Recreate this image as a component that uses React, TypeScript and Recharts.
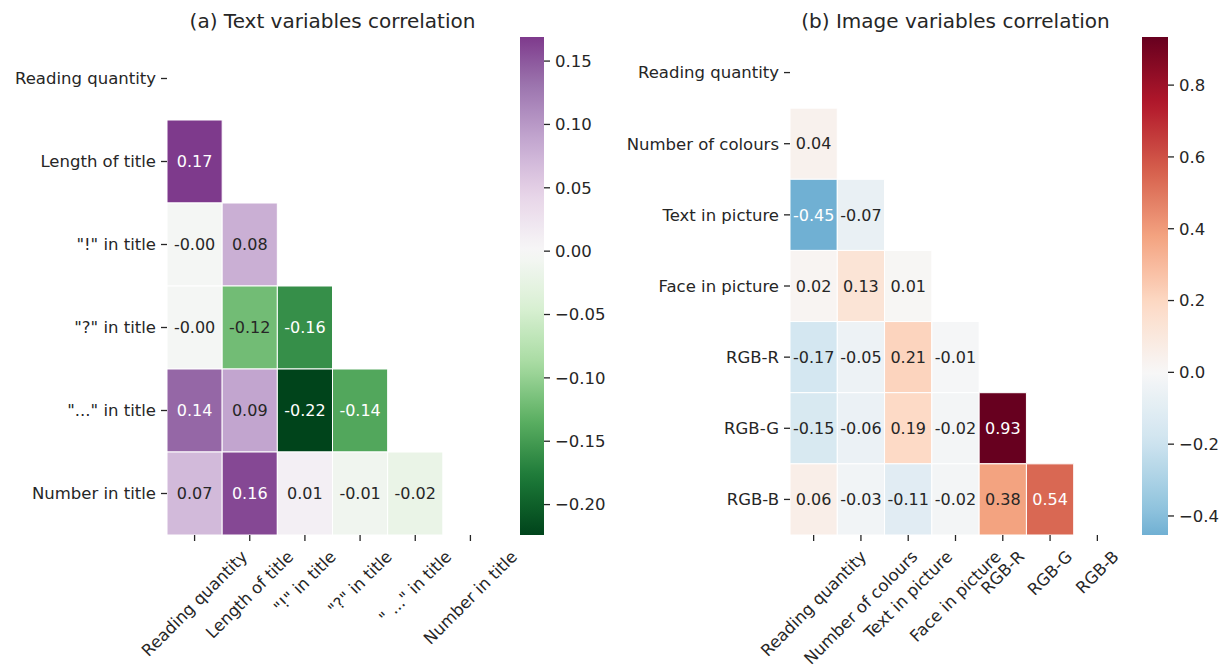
import React from 'react';
import { ComposedChart, XAxis, YAxis, ReferenceArea, Scatter } from 'recharts';

// ---- data ----
const textVars = ['Reading quantity', 'Length of title', '"!" in title', '"?" in title', '"..." in title', 'Number in title'];
const textVarsX = ['Reading quantity', 'Length of title', '"!" in title', '"?" in title', '" ..." in title', 'Number in title'];
// lower triangle, row by row (diagonal and upper part masked)
const textCorr = [
    [],
    [0.169],
    [-0.004, 0.08],
    [-0.004, -0.12, -0.16],
    [0.14, 0.09, -0.224, -0.14],
    [0.07, 0.16, 0.01, -0.01, -0.02],
];
const textCbarTicks = [0.15, 0.1, 0.05, 0, -0.05, -0.1, -0.15, -0.2];

const imageVars = ['Reading quantity', 'Number of colours', 'Text in picture', 'Face in picture', 'RGB-R', 'RGB-G', 'RGB-B'];
const imageCorr = [
    [],
    [0.04],
    [-0.453, -0.07],
    [0.02, 0.13, 0.01],
    [-0.17, -0.05, 0.21, -0.01],
    [-0.15, -0.06, 0.19, -0.02, 0.934],
    [0.06, -0.03, -0.11, -0.02, 0.38, 0.54],
];
const imageCbarTicks = [0.8, 0.6, 0.4, 0.2, 0, -0.2, -0.4];

// colormaps (matplotlib PRGn_r / RdBu_r control colours)
const PRGn_r = ['#00441b', '#1b7837', '#5aae61', '#a6dba0', '#d9f0d3', '#f7f7f7', '#e7d4e8', '#c2a5cf', '#9970ab', '#762a83', '#40004b'];
const RdBu_r = ['#053061', '#2166ac', '#4393c3', '#92c5de', '#d1e5f0', '#f7f7f7', '#fddbc7', '#f4a582', '#d6604d', '#b2182b', '#67001f'];

const FONT = '"DejaVu Sans", "Liberation Sans", sans-serif';
const TXT = '#262626';
const TICK_FS = 16.5;
const ANN_FS = 16;

const hexToRgb = (h: string) => [1, 3, 5].map((i) => parseInt(h.slice(i, i + 2), 16));

const sampleCmap = (stops: string[], t: number) => {
    const tt = Math.max(0, Math.min(1, t)) * (stops.length - 1);
    const i = Math.min(Math.floor(tt), stops.length - 2);
    const f = tt - i;
    const a = hexToRgb(stops[i]);
    const b = hexToRgb(stops[i + 1]);
    return a.map((v, k) => Math.round(v + (b[k] - v) * f));
};

const rgbStr = (c: number[]) => `rgb(${c[0]},${c[1]},${c[2]})`;

// seaborn picks white / dark annotation text by luminance
const luminance = (c: number[]) => {
    const l = c.map((v) => {
        const s = v / 255;
        return s <= 0.03928 ? s / 12.92 : Math.pow((s + 0.055) / 1.055, 2.4);
    });
    return 0.2126 * l[0] + 0.7152 * l[1] + 0.0722 * l[2];
};

let ctx: CanvasRenderingContext2D | null = null;
const measure = (s: string, fs: number) => {
    if (!ctx) ctx = document.createElement('canvas').getContext('2d');
    if (!ctx) return s.length * fs * 0.6;
    ctx.font = `${fs}px "DejaVu Sans"`;
    return ctx.measureText(s).width;
};

const RotatedTick = (props: any) => {
    const { x, y, payload, labels } = props;
    const s = labels[Math.floor(payload.value)];
    const L = measure(s, TICK_FS);
    const half = ((L + TICK_FS * 1.17) * Math.SQRT1_2) / 2;
    return (
        <text
            x={0}
            y={0}
            transform={`translate(${x},${y + half}) rotate(-45)`}
            textAnchor="middle"
            dominantBaseline="central"
            fontSize={TICK_FS}
            fontFamily={FONT}
            fill={TXT}
        >
            {s}
        </text>
    );
};

const Empty = () => <g />;

interface PanelProps {
    id: string;
    title: string;
    labels: string[];
    xLabels: string[];
    corr: number[][];
    cmap: string[];
    cbarTicks: number[];
    cbarDecimals: number;
    left: number;
    yAxisWidth: number;
    plotWidth: number;
    cbarLeft: number;
    cbarWidth: number;
}

const TOP = 37;
const BOTTOM = 535;
const H = 672;
const EXTRA_RIGHT = 70;

const HeatmapPanel: React.FC<PanelProps> = (p) => {
    const n = p.labels.length;
    const all = p.corr.flat();
    const vmin = Math.min(...all);
    const vmax = Math.max(...all);
    const vrange = Math.max(Math.abs(vmin), Math.abs(vmax)); // center = 0
    const colorOf = (v: number) => sampleCmap(p.cmap, 0.5 + v / (2 * vrange));
    const centers = p.labels.map((_, i) => i + 0.5);
    const chartW = p.yAxisWidth + p.plotWidth + EXTRA_RIGHT;
    const cells = p.corr.flatMap((row, r) => row.map((v, c) => ({ x: c + 0.5, y: r + 0.5, v })));
    const cbarPts = [{ x: 0, y: vmin }, { x: 1, y: vmax }];

    const gradStops = Array.from({ length: 41 }, (_, i) => {
        const v = vmin + ((vmax - vmin) * i) / 40;
        return { off: i / 40, c: rgbStr(colorOf(v)) };
    });

    return (
        <>
            <div
                style={{
                    position: 'absolute',
                    left: p.left + p.yAxisWidth,
                    width: p.plotWidth,
                    top: 9,
                    textAlign: 'center',
                    fontFamily: FONT,
                    fontSize: 20,
                    lineHeight: '24px',
                    color: TXT,
                    whiteSpace: 'nowrap',
                }}
            >
                {p.title}
            </div>
            <div style={{ position: 'absolute', left: p.left, top: 0 }}>
                <ComposedChart width={chartW} height={H} margin={{ top: TOP, right: EXTRA_RIGHT, bottom: 0, left: 0 }}>
                    <XAxis
                        xAxisId="x"
                        dataKey="x"
                        type="number"
                        domain={[0, n]}
                        ticks={centers}
                        interval={0}
                        allowDataOverflow
                        height={H - BOTTOM}
                        axisLine={false}
                        tickSize={6}
                        tickMargin={6}
                        tickLine={{ stroke: TXT, strokeWidth: 1.3 }}
                        tick={(tp: any) => <RotatedTick {...tp} labels={p.xLabels} />}
                    />
                    <YAxis
                        yAxisId="y"
                        dataKey="y"
                        type="number"
                        domain={[0, n]}
                        reversed
                        ticks={centers}
                        interval={0}
                        allowDataOverflow
                        width={p.yAxisWidth}
                        axisLine={false}
                        tickSize={6}
                        tickMargin={5}
                        tickLine={{ stroke: TXT, strokeWidth: 1.3 }}
                        tickFormatter={(v: number) => p.labels[Math.floor(v)]}
                        tick={{ fontSize: TICK_FS, fill: TXT, fontFamily: FONT }}
                    />
                    <Scatter xAxisId="x" yAxisId="y" data={cells} dataKey="y" shape={Empty} isAnimationActive={false} />
                    {p.corr.map((row, r) =>
                        row.map((v, c) => {
                            const col = colorOf(v);
                            return (
                                <ReferenceArea
                                    key={`${r}-${c}`}
                                    xAxisId="x"
                                    yAxisId="y"
                                    x1={c}
                                    x2={c + 1}
                                    y1={r}
                                    y2={r + 1}
                                    fill={rgbStr(col)}
                                    fillOpacity={1}
                                    stroke="#ffffff"
                                    strokeWidth={1}
                                    label={{
                                        value: v.toFixed(2),
                                        position: 'center',
                                        fill: luminance(col) > 0.408 ? TXT : '#ffffff',
                                        fontSize: ANN_FS,
                                        fontFamily: FONT,
                                    }}
                                />
                            );
                        })
                    )}
                </ComposedChart>
            </div>
            <div style={{ position: 'absolute', left: p.cbarLeft, top: 0 }}>
                <ComposedChart width={p.cbarWidth + 80} height={H} margin={{ top: TOP, right: 10, bottom: H - BOTTOM, left: 0 }}>
                    <defs>
                        <linearGradient id={`cbar-${p.id}`} x1="0" y1="1" x2="0" y2="0">
                            {gradStops.map((s, i) => (
                                <stop key={i} offset={s.off} stopColor={s.c} />
                            ))}
                        </linearGradient>
                    </defs>
                    <XAxis xAxisId="cx" dataKey="x" type="number" domain={[0, 1]} hide allowDataOverflow height={0} />
                    <YAxis
                        yAxisId="cy"
                        dataKey="y"
                        orientation="right"
                        type="number"
                        domain={[vmin, vmax]}
                        allowDataOverflow
                        ticks={p.cbarTicks}
                        interval={0}
                        width={70}
                        axisLine={false}
                        tickSize={6}
                        tickMargin={5}
                        tickLine={{ stroke: TXT, strokeWidth: 1.3 }}
                        tick={{ fontSize: TICK_FS, fill: TXT, fontFamily: FONT, textAnchor: 'start' }}
                        tickFormatter={(v: number) => (v < 0 ? '\u2212' : '') + Math.abs(v).toFixed(p.cbarDecimals)}
                    />
                    <Scatter xAxisId="cx" yAxisId="cy" data={cbarPts} dataKey="y" shape={Empty} isAnimationActive={false} />
                    <ReferenceArea
                        xAxisId="cx"
                        yAxisId="cy"
                        x1={0}
                        x2={1}
                        y1={vmin}
                        y2={vmax}
                        fill={`url(#cbar-${p.id})`}
                        fillOpacity={1}
                        stroke="none"
                    />
                </ComposedChart>
            </div>
        </>
    );
};

export default function App() {
    return (
        <div style={{ position: 'absolute', left: 0, top: 0, width: 1227, height: 672, background: '#fff', overflow: 'hidden' }}>
            <HeatmapPanel
                id="text"
                title="(a) Text variables correlation"
                labels={textVars}
                xLabels={textVarsX}
                corr={textCorr}
                cmap={PRGn_r}
                cbarTicks={textCbarTicks}
                cbarDecimals={2}
                left={0}
                yAxisWidth={167}
                plotWidth={331}
                cbarLeft={520}
                cbarWidth={24}
            />
            <HeatmapPanel
                id="image"
                title="(b) Image variables correlation"
                labels={imageVars}
                xLabels={imageVars}
                corr={imageCorr}
                cmap={RdBu_r}
                cbarTicks={imageCbarTicks}
                cbarDecimals={1}
                left={600}
                yAxisWidth={190}
                plotWidth={331}
                cbarLeft={1142}
                cbarWidth={26}
            />
        </div>
    );
}
